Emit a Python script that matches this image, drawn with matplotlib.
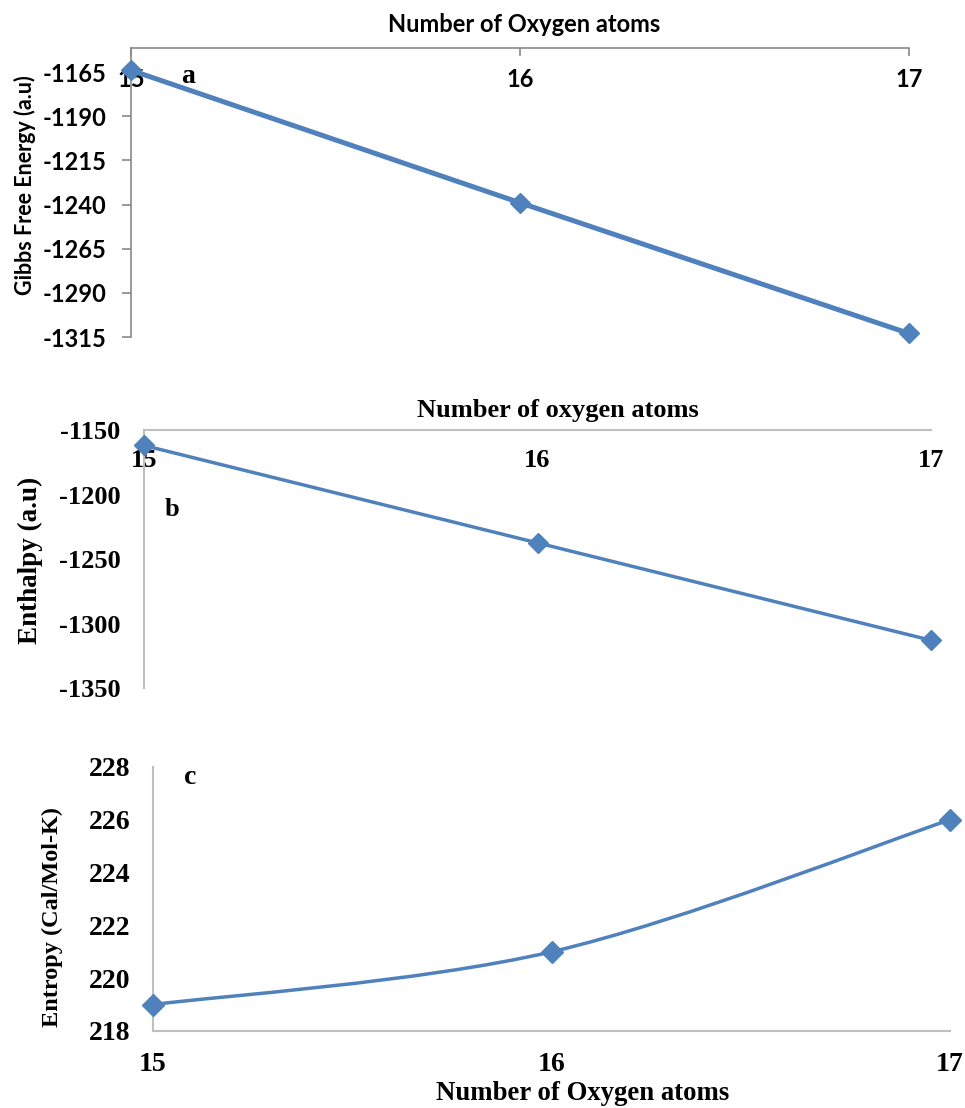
import matplotlib
matplotlib.use("Agg")
import matplotlib.pyplot as plt
from matplotlib.path import Path
from matplotlib.patches import PathPatch

# values
oxygen = [15, 16, 17]
gibbs = [-1164, -1239, -1313]
enthalpy = [-1162, -1237.5, -1313]
entropy = [219, 221, 226]

gibbs_ticks = [-1165, -1190, -1215, -1240, -1265, -1290, -1315]
enthalpy_ticks = [-1150, -1200, -1250, -1300, -1350]
entropy_ticks = [218, 220, 222, 224, 226, 228]

BLUE = "#4F81BD"
W, H = 965, 1108
sans = ["Lato", "DejaVu Sans"]
serif = ["Liberation Serif", "DejaVu Serif"]

fig = plt.figure(figsize=(W / 100, H / 100), dpi=100)


def axes_px(l, t, r, b):
    return fig.add_axes([l / W, 1 - b / H, (r - l) / W, (b - t) / H])


def ftext(x, y, s, **kw):
    fig.text(x / W, 1 - y / H, s, **kw)


# ---- panel a: Gibbs free energy (Excel/Calibri look) ----
ax = axes_px(131, 48, 909, 337)
ax.plot(oxygen, gibbs, color=BLUE, lw=3.6, marker="D", ms=10, clip_on=False, zorder=5)
ax.set_xlim(15, 17)
ax.set_ylim(-1315, -1151.4)
ax.set_xticks(oxygen, labels=[str(v) for v in oxygen], fontfamily=sans, fontweight="bold", fontsize=17)
ax.set_yticks(gibbs_ticks, labels=[str(v) for v in gibbs_ticks], fontfamily=sans, fontweight="bold", fontsize=17)
ax.xaxis.tick_top()
for s in ["right", "bottom"]:
    ax.spines[s].set_visible(False)
for s in ["left", "top"]:
    ax.spines[s].set_color("#898989")
    ax.spines[s].set_linewidth(1.2)
ax.tick_params(axis="x", direction="in", length=6, width=1.2, color="#898989", pad=-31)
ax.tick_params(axis="y", direction="out", length=6.5, width=1.2, color="#898989", pad=11)
ax.text(0.073, 0.9, "a", transform=ax.transAxes, fontfamily=serif, fontweight="bold",
        fontsize=20, ha="center", va="center")
ftext(524, 24, "Number of Oxygen atoms", fontfamily=sans, fontweight="bold", fontsize=17,
      ha="center", va="center")
ftext(25, 185, "Gibbs Free Energy (a.u)", fontfamily=sans, fontweight="bold", fontsize=15.5,
      rotation=90, ha="center", va="center")

# ---- panel b: enthalpy ----
ax = axes_px(144, 430, 931, 688)
ax.plot(oxygen, enthalpy, color=BLUE, lw=2.5, marker="D", ms=10.5, clip_on=False, zorder=5)
ax.set_xlim(15, 17)
ax.set_ylim(-1350, -1150)
ax.set_xticks(oxygen, labels=[str(v) for v in oxygen], fontfamily=serif, fontweight="bold", fontsize=19)
ax.set_yticks(enthalpy_ticks, labels=[str(v) for v in enthalpy_ticks], fontfamily=serif,
              fontweight="bold", fontsize=19)
ax.xaxis.tick_top()
for s in ["right", "bottom"]:
    ax.spines[s].set_visible(False)
for s in ["left", "top"]:
    ax.spines[s].set_color("#BFBFBF")
    ax.spines[s].set_linewidth(1.5)
ax.tick_params(axis="x", direction="in", length=0, pad=-30)
ax.tick_params(axis="y", length=0, pad=17)
ax.text(0.036, 0.69, "b", transform=ax.transAxes, fontfamily=serif, fontweight="bold",
        fontsize=19, ha="center", va="center")
ftext(558, 411, "Number of oxygen atoms", fontfamily=serif, fontweight="bold", fontsize=19,
      ha="center", va="center")
ftext(30, 560, "Enthalpy (a.u)", fontfamily=serif, fontweight="bold", fontsize=19.5,
      rotation=90, ha="center", va="center")

# ---- panel c: entropy (smoothed line) ----
ax = axes_px(153, 767, 950, 1031)
pts = list(zip(oxygen, entropy))
verts = [pts[0]]
codes = [Path.MOVETO]
for i in range(len(pts) - 1):
    p0 = pts[max(i - 1, 0)]
    p1 = pts[i]
    p2 = pts[i + 1]
    p3 = pts[min(i + 2, len(pts) - 1)]
    c1 = (p1[0] + (p2[0] - p0[0]) / 6, p1[1] + (p2[1] - p0[1]) / 6)
    c2 = (p2[0] - (p3[0] - p1[0]) / 6, p2[1] - (p3[1] - p1[1]) / 6)
    verts += [c1, c2, p2]
    codes += [Path.CURVE4] * 3
ax.add_patch(PathPatch(Path(verts, codes), fill=False, edgecolor=BLUE, lw=2.5,
                       clip_on=False, zorder=4))
ax.plot(oxygen, entropy, ls="none", color=BLUE, marker="D", ms=11.5, clip_on=False, zorder=5)
ax.set_xlim(15, 17)
ax.set_ylim(218, 228)
ax.set_xticks(oxygen, labels=[str(v) for v in oxygen], fontfamily=serif, fontweight="bold", fontsize=20)
ax.set_yticks(entropy_ticks, labels=[str(v) for v in entropy_ticks], fontfamily=serif,
              fontweight="bold", fontsize=20)
for s in ["right", "top"]:
    ax.spines[s].set_visible(False)
for s in ["left", "bottom"]:
    ax.spines[s].set_color("#BFBFBF")
    ax.spines[s].set_linewidth(1.5)
ax.tick_params(axis="x", length=0, pad=15)
ax.tick_params(axis="y", length=0, pad=16)
ax.text(0.047, 0.96, "c", transform=ax.transAxes, fontfamily=serif, fontweight="bold",
        fontsize=20, ha="center", va="center")
ftext(583, 1093, "Number of Oxygen atoms", fontfamily=serif, fontweight="bold", fontsize=19.3,
      ha="center", va="center")
ftext(52, 917, "Entropy (Cal/Mol-K)", fontfamily=serif, fontweight="bold", fontsize=17.5,
      rotation=90, ha="center", va="center")

fig.savefig("out.png", dpi=100)
